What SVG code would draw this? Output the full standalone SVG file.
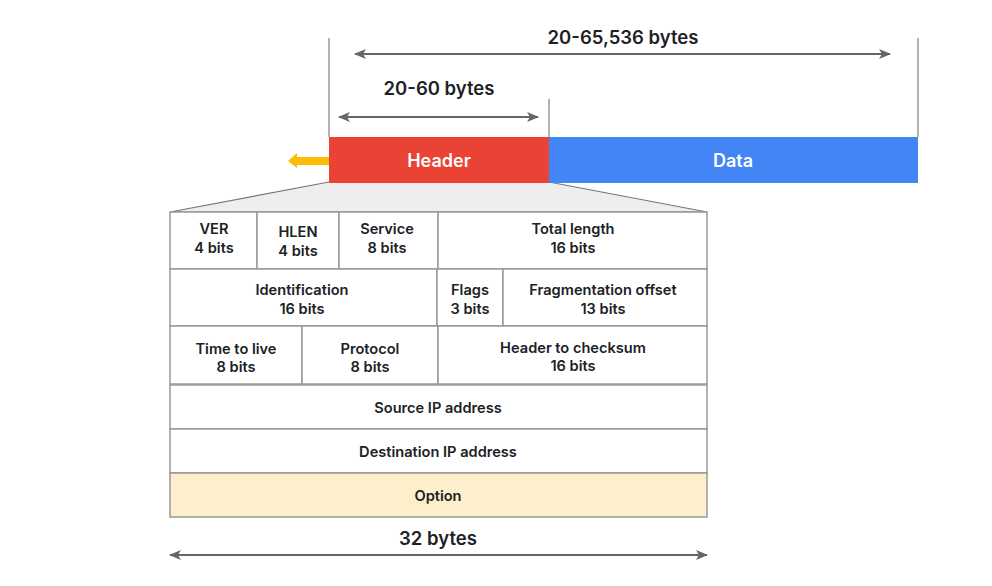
<svg xmlns="http://www.w3.org/2000/svg" width="992" height="586" viewBox="0 0 992 586">
<defs>
<style>
.t{font-family:Inter,Roboto,"Liberation Sans",sans-serif;font-weight:600;font-size:14.6px;fill:#202124;text-anchor:middle}
.big{font-family:Inter,Roboto,"Liberation Sans",sans-serif;font-weight:600;font-size:18.5px;fill:#202124;text-anchor:middle}
.w{font-family:Inter,Roboto,"Liberation Sans",sans-serif;font-weight:600;font-size:18px;fill:#ffffff;text-anchor:middle}
.cell{fill:#ffffff;stroke:#999999;stroke-width:1.5}
.dim{stroke:#666666;stroke-width:2;fill:none}
.ext{stroke:#999999;stroke-width:1.5;fill:none}
</style>
<marker id="ah" viewBox="0 0 12 10" refX="11" refY="5" markerWidth="12" markerHeight="10" markerUnits="userSpaceOnUse" orient="auto-start-reverse">
<path d="M0,0 L12,5 L0,10 L3,5 Z" fill="#666666"/>
</marker>
</defs>
<rect width="992" height="586" fill="#ffffff"/>

<g id="connectors">
<line class="ext" x1="329" y1="38" x2="329" y2="137"/>
<line class="ext" x1="549" y1="99" x2="549" y2="137"/>
<line class="ext" x1="918" y1="38" x2="918" y2="137"/>
<line class="dim" x1="355" y1="54" x2="890" y2="54" marker-start="url(#ah)" marker-end="url(#ah)"/>
<line class="dim" x1="339" y1="117" x2="538" y2="117" marker-start="url(#ah)" marker-end="url(#ah)"/>
<line class="dim" x1="170" y1="555" x2="707" y2="555" marker-start="url(#ah)" marker-end="url(#ah)"/>
<path d="M288,161 L297,153 L297,157 L330,157 L330,165 L297,165 L297,168 Z" fill="#FBBC04"/>
<path d="M329,182 L549,182 L707,212 L170,212 Z" fill="#EEEEEE" stroke="#777777" stroke-width="1.2"/>
</g>

<g id="labels">
<text class="big" x="623" y="44">20-65,536 bytes</text>
<text class="big" x="439" y="95">20-60 bytes</text>
<text class="big" x="438" y="545">32 bytes</text>
</g>

<g id="header">
<rect x="329" y="137" width="220" height="46" fill="#EA4335"/>
<text class="w" x="439" y="167">Header</text>
</g>
<g id="data">
<rect x="549" y="137" width="369" height="46" fill="#4285F4"/>
<text class="w" x="733" y="167">Data</text>
</g>

<g id="ver"><rect class="cell" x="170" y="212" width="87" height="57"/><text class="t" x="214" y="234">VER</text><text class="t" x="214" y="253">4 bits</text></g>
<g id="hlen"><rect class="cell" x="257" y="212" width="82" height="57"/><text class="t" x="298" y="237">HLEN</text><text class="t" x="298" y="256">4 bits</text></g>
<g id="service"><rect class="cell" x="339" y="212" width="99" height="57"/><text class="t" x="387" y="234">Service</text><text class="t" x="387" y="253">8 bits</text></g>
<g id="total-length"><rect class="cell" x="438" y="212" width="269" height="57"/><text class="t" x="573" y="234">Total length</text><text class="t" x="573" y="253">16 bits</text></g>

<g id="identification"><rect class="cell" x="170" y="269" width="267" height="57"/><text class="t" x="302" y="295">Identification</text><text class="t" x="302" y="314">16 bits</text></g>
<g id="flags"><rect class="cell" x="437" y="269" width="66" height="57"/><text class="t" x="470" y="295">Flags</text><text class="t" x="470" y="314">3 bits</text></g>
<g id="frag-offset"><rect class="cell" x="503" y="269" width="204" height="57"/><text class="t" x="603" y="295">Fragmentation offset</text><text class="t" x="603" y="314">13 bits</text></g>

<g id="ttl"><rect class="cell" x="170" y="326" width="132" height="58"/><text class="t" x="236" y="354">Time to live</text><text class="t" x="236" y="372">8 bits</text></g>
<g id="protocol"><rect class="cell" x="302" y="326" width="136" height="58"/><text class="t" x="370" y="354">Protocol</text><text class="t" x="370" y="372">8 bits</text></g>
<g id="checksum"><rect class="cell" x="438" y="326" width="269" height="58"/><text class="t" x="573" y="353">Header to checksum</text><text class="t" x="573" y="371">16 bits</text></g>

<g id="source-ip"><rect class="cell" x="170" y="385" width="537" height="44"/><text class="t" x="438" y="413">Source IP address</text></g>
<g id="dest-ip"><rect class="cell" x="170" y="429" width="537" height="44"/><text class="t" x="438" y="457">Destination IP address</text></g>
<g id="option"><rect x="170" y="473" width="537" height="44" fill="#FEEFCC" stroke="#999999" stroke-width="1.5"/><text class="t" x="438" y="501">Option</text></g>
</svg>
